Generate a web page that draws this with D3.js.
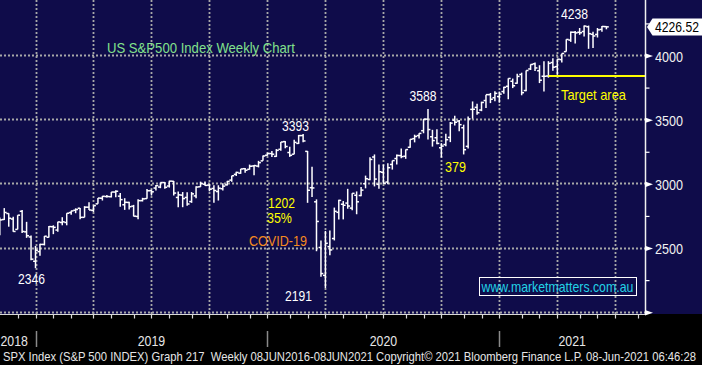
<!DOCTYPE html>
<html>
<head>
<meta charset="utf-8">
<script src="https://cdn.jsdelivr.net/npm/d3@7/dist/d3.min.js"></script>
<style>
  html, body { margin: 0; padding: 0; background: #000; }
  svg { display: block; font-family: "Liberation Sans", Arial, sans-serif; }
</style>
</head>
<body>
<div id="chart"></div>
<script>
// SPX weekly OHLC, one bar per week ending Friday, 02 Nov 2018 .. 11 Jun 2021
const firstWeek = new Date(2018, 10, 2);
const lastWeek = new Date(2021, 5, 11);

const opens = [
  2705, 2726, 2773, 2730, 2649, 2790, 2630, 2590, 2401, 2476,
  2532, 2588, 2670, 2644, 2703, 2703, 2780, 2798, 2814, 2743,
  2822, 2797, 2848, 2892, 2905, 2904, 2940, 2908, 2841, 2859,
  2830, 2750, 2873, 2889, 2951, 2971, 2979, 3014, 2987, 3024,
  2898, 2916, 2898, 2866, 2910, 2981, 3001, 2994, 2968, 2944,
  2966, 2996, 3033, 3078, 3087, 3122, 3117, 3143, 3142, 3183,
  3227, 3240, 3218, 3273, 3333, 3248, 3235, 3319, 3380, 3257,
  2974, 2864, 2508, 2291, 2515, 2578, 2782, 2845, 2854, 2815,
  2915, 2913, 3005, 3038, 3213, 3000, 3094, 3018, 3155, 3201,
  3224, 3219, 3289, 3356, 3380, 3418, 3508, 3371, 3363, 3285,
  3310, 3366, 3500, 3493, 3441, 3296, 3584, 3600, 3579, 3653,
  3699, 3675, 3684, 3723, 3764, 3803, 3788, 3856, 3731, 3899,
  3939, 3885, 3842, 3844, 3949, 3917, 3972, 4034, 4124, 4185,
  4185, 4191, 4228, 4169, 4168, 4207, 4229
];
const highs = [
  2741, 2815, 2775, 2747, 2760, 2800, 2708, 2601, 2520, 2538,
  2597, 2675, 2681, 2708, 2744, 2775, 2794, 2813, 2816, 2830,
  2860, 2835, 2893, 2910, 2917, 2940, 2954, 2932, 2892, 2864,
  2840, 2884, 2895, 2964, 2959, 2995, 3014, 3018, 3028, 3027,
  2945, 2940, 2939, 2940, 2985, 3021, 3022, 3002, 2993, 2993,
  3008, 3027, 3067, 3098, 3120, 3127, 3154, 3150, 3183, 3225,
  3247, 3259, 3275, 3330, 3337, 3293, 3347, 3385, 3393, 3260,
  3137, 2883, 2562, 2637, 2641, 2819, 2880, 2870, 2965, 2930,
  2945, 2980, 3068, 3211, 3233, 3155, 3154, 3165, 3185, 3233,
  3280, 3272, 3352, 3387, 3399, 3509, 3588, 3425, 3429, 3321,
  3394, 3486, 3534, 3501, 3465, 3529, 3646, 3628, 3644, 3699,
  3712, 3726, 3723, 3760, 3826, 3824, 3861, 3870, 3887, 3935,
  3950, 3928, 3960, 3960, 3983, 3978, 4020, 4130, 4191, 4194,
  4218, 4238, 4237, 4188, 4218, 4234, 4232
];
const lows = [
  2604, 2722, 2670, 2631, 2649, 2621, 2583, 2409, 2347, 2443,
  2524, 2585, 2612, 2631, 2681, 2681, 2764, 2775, 2728, 2743,
  2800, 2785, 2848, 2874, 2898, 2898, 2900, 2825, 2801, 2805,
  2750, 2728, 2867, 2887, 2913, 2952, 2970, 2966, 2975, 2914,
  2822, 2822, 2834, 2856, 2892, 2980, 2990, 2946, 2856, 2874,
  2952, 2991, 3020, 3066, 3082, 3091, 3115, 3070, 3132, 3183,
  3223, 3213, 3214, 3262, 3281, 3214, 3235, 3315, 3328, 2856,
  2902, 2479, 2280, 2192, 2448, 2563, 2727, 2727, 2810, 2798,
  2767, 2908, 2969, 3032, 2984, 2966, 3004, 3001, 3115, 3154,
  3204, 3199, 3285, 3327, 3357, 3398, 3349, 3294, 3313, 3209,
  3297, 3329, 3459, 3413, 3233, 3279, 3511, 3543, 3570, 3594,
  3633, 3648, 3636, 3705, 3663, 3750, 3784, 3694, 3725, 3891,
  3884, 3789, 3723, 3831, 3885, 3853, 3949, 4034, 4110, 4097,
  4165, 4151, 4056, 4062, 4144, 4188, 4208
];
const closes = [
  2723, 2781, 2736, 2633, 2760, 2633, 2600, 2417, 2486, 2532,
  2596, 2671, 2665, 2707, 2708, 2775, 2793, 2804, 2743, 2822,
  2800, 2834, 2893, 2907, 2905, 2940, 2946, 2881, 2860, 2826,
  2752, 2873, 2887, 2950, 2942, 2990, 3014, 2977, 3025, 2932,
  2918, 2889, 2847, 2926, 2979, 3007, 2992, 2962, 2952, 2970,
  2986, 3023, 3067, 3093, 3120, 3110, 3141, 3146, 3169, 3221,
  3240, 3235, 3265, 3330, 3295, 3226, 3327, 3380, 3338, 2954,
  2972, 2711, 2305, 2541, 2489, 2790, 2875, 2837, 2831, 2930,
  2864, 2955, 3044, 3194, 3041, 3098, 3009, 3130, 3185, 3225,
  3216, 3271, 3351, 3373, 3397, 3508, 3427, 3341, 3319, 3298,
  3348, 3477, 3484, 3465, 3270, 3510, 3585, 3558, 3638, 3699,
  3663, 3709, 3703, 3756, 3825, 3768, 3841, 3714, 3887, 3934,
  3907, 3811, 3842, 3943, 3913, 3975, 4020, 4129, 4185, 4180,
  4181, 4233, 4174, 4156, 4204, 4230, 4227
];
const lastPrice = 4226.52;

const yMajor = [2000, 2500, 3000, 3500, 4000];
const yMinor = [2250, 2750, 3250, 3750, 4250];
const yearLabels = ['2018', '2019', '2020', '2021'];
const targetLevel = 3844;
const targetStart = new Date(2021, 2, 12);

const W = 702, H = 365;
const plotRight = 645, plotBottom = 314;
const navy = '#0f0c4a';
const gridColor = '#a8a8a8';

const weeks = d3.timeFriday.range(firstWeek, d3.timeDay.offset(lastWeek, 1));
const bars = weeks.map((d, i) => ({
  date: d, open: opens[i], high: highs[i], low: lows[i], close: closes[i]
}));

const x = d3.scaleTime()
  .domain([new Date(2018, 11, 28), lastWeek])
  .range([35.5, 606.4]);
const y = d3.scaleLinear().domain([2000, 4000]).range([312.7, 56]);

// Bloomberg places period marks on the last weekly bar before the period starts
const markX = (d) => x(d3.timeFriday.floor(d3.timeDay.offset(d, -1)));

const svg = d3.select('#chart').append('svg')
  .attr('width', W).attr('height', H)
  .attr('viewBox', `0 0 ${W} ${H}`);

svg.append('rect').attr('width', W).attr('height', H).attr('fill', '#000');
svg.append('rect').attr('width', W).attr('height', plotBottom).attr('fill', navy);

const clip = svg.append('defs').append('clipPath').attr('id', 'plot-clip');
clip.append('rect').attr('width', plotRight).attr('height', plotBottom);

const plot = svg.append('g').attr('clip-path', 'url(#plot-clip)');

// Text squeezed horizontally to the width it takes in the Bloomberg font
function fitText(str, px, py, opts) {
  const t = svg.append('text')
    .attr('x', 0).attr('y', 0)
    .attr('text-anchor', opts.anchor || 'start')
    .attr('fill', opts.color)
    .attr('font-size', opts.size || 14)
    .style('white-space', 'pre')
    .text(str);
  const natural = t.node().getComputedTextLength();
  const sx = natural > 0 ? opts.width / natural : 1;
  t.attr('transform', `translate(${px},${py}) scale(${sx},1)`);
  return t;
}

// Grid
const quarters = d3.timeMonth.every(3).range(new Date(2019, 0, 1), new Date(2021, 9, 1));
plot.append('g').selectAll('line')
  .data(quarters)
  .join('line')
  .attr('x1', (d) => Math.round(markX(d)) + 0.5)
  .attr('x2', (d) => Math.round(markX(d)) + 0.5)
  .attr('y1', 0).attr('y2', plotBottom)
  .attr('stroke', gridColor).attr('stroke-width', 1.8)
  .attr('stroke-dasharray', '2,2');

plot.append('g').selectAll('line')
  .data(yMajor)
  .join('line')
  .attr('x1', 0).attr('x2', plotRight)
  .attr('y1', (d) => Math.round(y(d)) - 0.5)
  .attr('y2', (d) => Math.round(y(d)) - 0.5)
  .attr('stroke', gridColor).attr('stroke-width', 1.8)
  .attr('stroke-dasharray', '2,2');

// OHLC bars
const bar = plot.append('g').attr('stroke', '#fff').attr('stroke-width', 1.5)
  .selectAll('g')
  .data(bars)
  .join('g');

bar.append('line')
  .attr('x1', (d) => x(d.date)).attr('x2', (d) => x(d.date))
  .attr('y1', (d) => y(d.high)).attr('y2', (d) => y(d.low));
bar.append('line')
  .attr('x1', (d) => x(d.date) - 2.4).attr('x2', (d) => x(d.date))
  .attr('y1', (d) => y(d.open)).attr('y2', (d) => y(d.open));
bar.append('line')
  .attr('x1', (d) => x(d.date)).attr('x2', (d) => x(d.date) + 2.4)
  .attr('y1', (d) => y(d.close)).attr('y2', (d) => y(d.close));

// Target line
svg.append('line')
  .attr('x1', x(targetStart)).attr('x2', plotRight)
  .attr('y1', y(targetLevel)).attr('y2', y(targetLevel))
  .attr('stroke', '#ffff00').attr('stroke-width', 2.2);

// Bottom axis line and monthly ticks
svg.append('line')
  .attr('x1', 0).attr('x2', plotRight)
  .attr('y1', plotBottom + 0.5).attr('y2', plotBottom + 0.5)
  .attr('stroke', '#d8d8d8').attr('stroke-width', 1);

const months = d3.timeMonth.range(new Date(2018, 11, 1), new Date(2021, 7, 2));
svg.append('g').selectAll('line')
  .data(months.filter((d) => markX(d) < plotRight))
  .join('line')
  .attr('x1', (d) => Math.round(markX(d)) + 0.5)
  .attr('x2', (d) => Math.round(markX(d)) + 0.5)
  .attr('y1', plotBottom).attr('y2', plotBottom + 4.5)
  .attr('stroke', '#d8d8d8').attr('stroke-width', 1.2);

// Year separators and labels
const yearStarts = [new Date(2019, 0, 1), new Date(2020, 0, 1), new Date(2021, 0, 1)];
const seps = yearStarts.map(markX);
svg.append('g').selectAll('line')
  .data(seps)
  .join('line')
  .attr('x1', (d) => Math.round(d) + 0.5).attr('x2', (d) => Math.round(d) + 0.5)
  .attr('y1', 331).attr('y2', 347)
  .attr('stroke', '#8a8a8a').attr('stroke-width', 1.5);

const bounds = [0].concat(seps, [plotRight]);
yearLabels.forEach((label, i) => {
  const a = bounds[i], b = bounds[i + 1];
  const narrow = b - a < 40;
  fitText(label, narrow ? a + 0.5 : (a + b) / 2, 346, {
    color: '#e6e6e6', width: 27.5, anchor: narrow ? 'start' : 'middle'
  });
});

// Right axis
const axisG = svg.append('g');
axisG.append('line')
  .attr('x1', plotRight + 0.5).attr('x2', plotRight + 0.5)
  .attr('y1', 0).attr('y2', plotBottom)
  .attr('stroke', '#f0f0f0').attr('stroke-width', 1.5);

axisG.selectAll('path.major')
  .data(yMajor)
  .join('path')
  .attr('class', 'major')
  .attr('d', (d) => `M${plotRight},${y(d) - 2.8}L${plotRight + 8},${y(d)}L${plotRight},${y(d) + 2.8}Z`)
  .attr('fill', '#fff');

axisG.selectAll('line.minor')
  .data(yMinor)
  .join('line')
  .attr('class', 'minor')
  .attr('x1', plotRight).attr('x2', plotRight + 4.5)
  .attr('y1', (d) => y(d)).attr('y2', (d) => y(d))
  .attr('stroke', '#fff').attr('stroke-width', 1.2);

yMajor.filter((d) => d > 2000).forEach((d) => {
  fitText(String(d), 655, y(d) + 5.5, { color: '#f2f2f2', width: 28 });
});

// Last price tag
const py = y(lastPrice);
svg.append('path')
  .attr('d', `M647,${py}L652.5,${py - 8.5}L${W},${py - 8.5}L${W},${py + 8.5}L652.5,${py + 8.5}Z`)
  .attr('fill', '#fff');
fitText(d3.format('.2f')(lastPrice), 655, py + 5, { color: '#000', width: 44 });

// Annotations
const peakWeek = bars[d3.maxIndex(bars.filter((d) => d.date < new Date(2020, 5, 1)), (d) => d.high)];
const sepWeek = bars[d3.maxIndex(bars.filter((d) => d.date < new Date(2020, 10, 1)), (d) => d.high)];
const topWeek = bars[d3.maxIndex(bars, (d) => d.high)];
const low2018 = bars[d3.minIndex(bars.filter((d) => d.date < new Date(2019, 5, 1)), (d) => d.low)];
const low2020 = bars[d3.minIndex(bars, (d) => d.low)];

fitText('US S&P500 Index Weekly Chart', 107, 53, { color: '#82e18c', width: 188 });
fitText('3393', x(peakWeek.date) - 7.6, y(peakWeek.high) - 3.4, { color: '#fff', width: 27, anchor: 'middle' });
fitText('3588', x(sepWeek.date) - 5, y(sepWeek.high) - 8, { color: '#fff', width: 27, anchor: 'middle' });
fitText('4238', x(topWeek.date) - 9.6, y(topWeek.high) - 6.5, { color: '#fff', width: 27, anchor: 'middle' });
fitText('2346', x(low2018.date) - 4, y(low2018.low) + 15.7, { color: '#fff', width: 27, anchor: 'middle' });
fitText('2191', x(low2020.date) - 27, y(low2020.low) + 13, { color: '#fff', width: 27, anchor: 'middle' });
fitText('1202', 268, 208, { color: '#ffff00', width: 27 });
fitText('35%', 267, 223, { color: '#ffff00', width: 25 });
fitText('COVID-19', 249, 246, { color: '#f58a1f', width: 58 });
fitText('379', 445, 172, { color: '#ffff00', width: 21 });
fitText('Target area', 561, 100, { color: '#ffff00', width: 65 });

// Website box
svg.append('rect')
  .attr('x', 479.5).attr('y', 277.5).attr('width', 157).attr('height', 18)
  .attr('fill', 'none').attr('stroke', '#fff').attr('stroke-width', 1);
fitText('www.marketmatters.com.au', 481.5, 291.5, { color: '#22d2e6', width: 152 });

// Footer
fitText('SPX Index (S&P 500 INDEX) Graph 217  Weekly 08JUN2016-08JUN2021 Copyright\u00A9 2021 Bloomberg Finance L.P. 08-Jun-2021 06:46:28',
  3, 361, { color: '#e6e6e6', width: 694, size: 12.5 });
</script>
</body>
</html>
